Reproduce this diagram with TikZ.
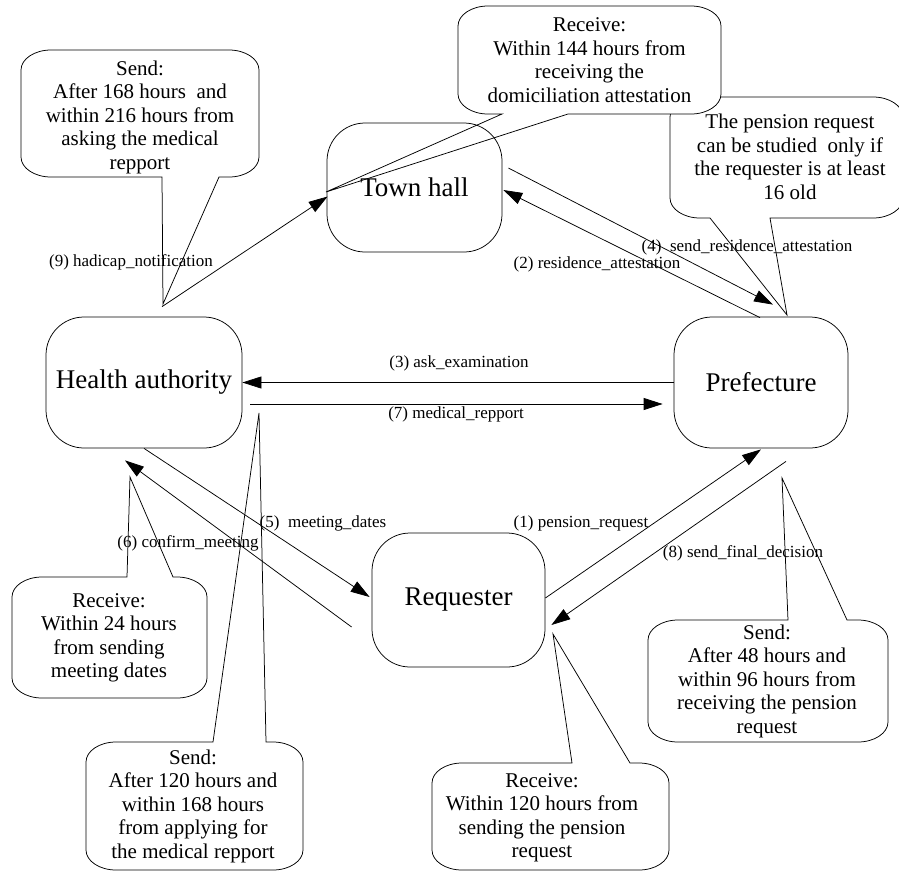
\documentclass[tikz,border=0pt]{standalone}
\usepackage{fontspec}
\setmainfont{Liberation Serif}
\usetikzlibrary{arrows.meta,calc}
% callout with pointer on the bottom edge: x1,y1,x2,y2,px1,px2,tipx,tipy
\newcommand\calloutdown[8]{%
 \filldraw[callout] ({#1+30},#2) -- ({#3-30},#2)
  .. controls ({#3-13.4},#2) and (#3,{#2+9}) .. (#3,{#2+20})
  -- (#3,{#4-20})
  .. controls (#3,{#4-9}) and ({#3-13.4},#4) .. ({#3-30},#4)
  -- (#6,#4) -- (#7,#8) -- (#5,#4)
  -- ({#1+30},#4)
  .. controls ({#1+13.4},#4) and (#1,{#4-9}) .. (#1,{#4-20})
  -- (#1,{#2+20})
  .. controls (#1,{#2+9}) and ({#1+13.4},#2) .. cycle;}
% callout with pointer on the top edge
\newcommand\calloutup[8]{%
 \filldraw[callout] ({#1+30},#2) -- (#5,#2) -- (#7,#8) -- (#6,#2) -- ({#3-30},#2)
  .. controls ({#3-13.4},#2) and (#3,{#2+9}) .. (#3,{#2+20})
  -- (#3,{#4-20})
  .. controls (#3,{#4-9}) and ({#3-13.4},#4) .. ({#3-30},#4)
  -- ({#1+30},#4)
  .. controls ({#1+13.4},#4) and (#1,{#4-9}) .. (#1,{#4-20})
  -- (#1,{#2+20})
  .. controls (#1,{#2+9}) and ({#1+13.4},#2) .. cycle;}
\begin{document}
\begin{tikzpicture}[x=1pt,y=-1pt,
  callout/.style={draw=black,fill=white,line width=0.75pt},
  ctext/.style={align=center,inner sep=0pt,font=\fontsize{21}{23.5}\selectfont},
  actor/.style={draw=black,line width=0.75pt,rounded corners=38pt,inner sep=0pt,
    font=\fontsize{27}{32}\selectfont},
  edge/.style={draw=black,line width=0.75pt,-{Triangle[length=19pt,width=12pt]}},
  elabel/.style={inner sep=0pt,font=\fontsize{17}{20}\selectfont}]
\useasboundingbox (0,0) rectangle (899,871);
\clip (0,0) rectangle (899,871);

% callouts
\calloutdown{670}{97}{903}{218}{710}{770}{787}{315}
\calloutdown{458}{6}{721}{114}{502}{568}{326}{192}
\calloutdown{21}{50}{259}{177}{162}{219}{163}{304}
\calloutup{12}{577}{207}{698}{127}{173}{130}{477}
\calloutup{86}{742}{303}{870}{213}{266}{259}{413}
\calloutup{648}{620}{888}{742}{788}{847}{782}{478}
\calloutup{432}{763}{669}{870}{572}{630}{553}{634}

\node[ctext] (cA) at (140,117) {Send:\\After 168 hours\ \ and\\within 216 hours from\\asking the medical\\repport};
\node[ctext] (cB) at (589.5,60) {Receive:\\Within 144 hours from\\receiving the\\domiciliation attestation};
\node[ctext] (cC) at (790,157) {The pension request\\can be studied\ \ only if\\the requester is at least\\16 old};
\node[ctext] (cD) at (109,638) {Receive:\\Within 24 hours\\from sending\\meeting dates};
\node[ctext] (cE) at (193,806) {Send:\\After 120 hours and\\within 168 hours\\from applying for\\the medical repport};
\node[ctext] (cF) at (767,681) {Send:\\After 48 hours and\\within 96 hours from\\receiving the pension\\request};
\node[ctext] (cG) at (542,818) {Receive:\\Within 120 hours from\\sending the pension\\request};

% actors
\node[actor,minimum width=175pt,minimum height=129pt] (th) at (414.5,187.5) {Town hall};
\node[actor,minimum width=196pt,minimum height=131pt] (ha) at (144,382.5) {Health authority};
\node[actor,minimum width=174pt,minimum height=131pt] (pf) at (761,382.5) {Prefecture};
\node[actor,minimum width=173pt,minimum height=134pt] (rq) at (458.5,600) {Requester};

% messages
\draw[edge] ($(ha.north)+(18,-10)$) -- ($(th.west)+(1,9)$);
\draw[edge] ($(pf.north)+(-1,1)$) -- ($(th.east)+(1,2.5)$);
\draw[edge] ($(th.east)+(6,-19.5)$) -- ($(pf.north)+(12,-12)$);
\draw[edge] (pf.west) -- (ha.east);
\draw[edge] ($(ha.east)+(8,21.5)$) -- ($(pf.west)+(-11,21.5)$);
\draw[edge] (ha.south) -- ($(rq.west)+(-2,-3)$);
\draw[edge] ($(rq.west)+(-20,27)$) -- ($(ha.south)+(-19,12)$);
\draw[edge] ($(rq.east)+(0,-2)$) -- ($(pf.south)+(0,1)$);
\draw[edge] ($(pf.south)+(25,13)$) -- ($(rq.east)+(6,25)$);

% message labels
\node[elabel] (l9) at (131,262) {(9) hadicap\_notification};
\node[elabel] (l2) at (597,264) {(2) residence\_attestation};
\node[elabel] (l4) at (747,247) {(4)\ \ send\_residence\_attestation};
\node[elabel] (l3) at (459,363) {(3) ask\_examination};
\node[elabel] (l7) at (456,414) {(7) medical\_repport};
\node[elabel] (l5) at (323,523) {(5)\ \ meeting\_dates};
\node[elabel] (l6) at (188,543) {(6) confirm\_meeting};
\node[elabel] (l1) at (581,523) {(1) pension\_request};
\node[elabel] (l8) at (743,553) {(8) send\_final\_decision};
\end{tikzpicture}
\end{document}
